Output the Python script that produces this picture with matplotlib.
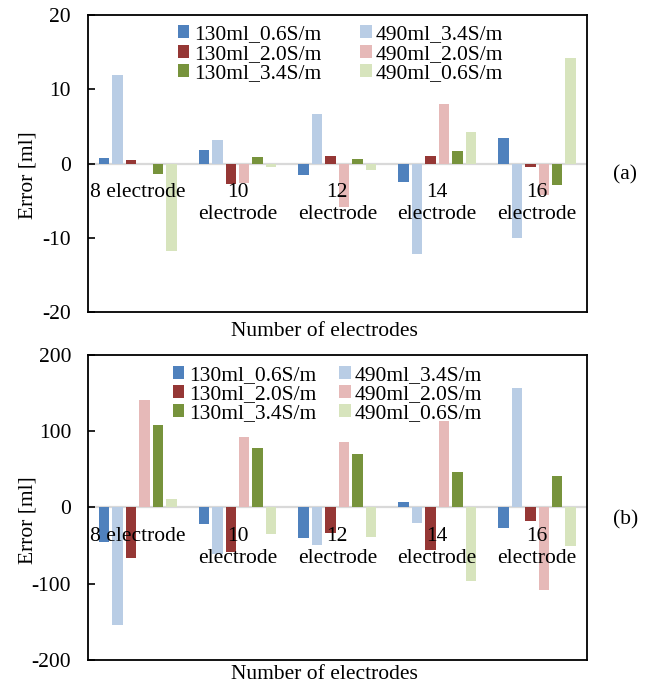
import numpy as np
import matplotlib
matplotlib.use("Agg")
import matplotlib.pyplot as plt
import matplotlib.transforms as mtransforms

plt.rcParams['font.family'] = ['Liberation Serif', 'DejaVu Serif']
plt.rcParams['font.size'] = 15.5
plt.rcParams['axes.unicode_minus'] = False

# 数据
categories = ['8 electrode', '10\nelectrode', '12\nelectrode', '14\nelectrode', '16\nelectrode']
series_names = ['130ml_0.6S/m', '490ml_3.4S/m', '130ml_2.0S/m',
                '490ml_2.0S/m', '130ml_3.4S/m', '490ml_0.6S/m']
series_colors = ['#4F81BD', '#B9CDE5', '#953735', '#E6B9B8', '#77933C', '#D7E4BD']

# (a) 每个系列在5个电极数下的误差
err_a_130_06 = [0.8, 1.85, -1.5, -2.5, 3.5]
err_a_490_34 = [11.9, 3.15, 6.7, -12.2, -10.0]
err_a_130_20 = [0.5, -2.7, 1.0, 0.95, -0.45]
err_a_490_20 = [0.0, -2.6, -5.85, 8.0, -4.3]
err_a_130_34 = [-1.35, 0.9, 0.55, 1.7, -2.9]
err_a_490_06 = [-11.8, -0.5, -0.85, 4.2, 14.2]

# (b)
err_b_130_06 = [-44.8, -22.0, -39.6, 6.6, -26.4]
err_b_490_34 = [-153.8, -60.7, -49.0, -19.8, 157.0]
err_b_130_20 = [-66.0, -58.5, -33.0, -56.3, -17.6]
err_b_490_20 = [140.7, 92.7, 86.2, 113.4, -108.6]
err_b_130_34 = [107.7, 77.8, 70.3, 47.0, 41.3]
err_b_490_06 = [10.5, -34.3, -38.7, -96.7, -50.5]

data_a = [err_a_130_06, err_a_490_34, err_a_130_20, err_a_490_20, err_a_130_34, err_a_490_06]
data_b = [err_b_130_06, err_b_490_34, err_b_130_20, err_b_490_20, err_b_130_34, err_b_490_06]

# 图例顺序 (按列填充)
legend_order = [0, 2, 4, 1, 3, 5]

fig = plt.figure(figsize=(6.5, 6.85), dpi=100)
ax_a = fig.add_axes([0.135, 0.5445, 0.768, 0.4335])
ax_b = fig.add_axes([0.135, 0.0365, 0.768, 0.4453])


def draw_panel(ax, data, ylim, yticks, colspacing, leg_x, tag, tag_y, xlab_y):
    x = np.arange(len(categories))
    slot = 0.135
    handles = []
    for i, vals in enumerate(data):
        h = ax.bar(x + (i - 2.5) * slot, vals, width=0.105,
                   color=series_colors[i], zorder=2)
        handles.append(h)
    ax.axhline(0, color='#D9D9D9', lw=1.6, zorder=1)
    ax.set_xlim(-0.5, len(categories) - 0.5)
    ax.set_ylim(*ylim)
    ax.set_yticks(yticks)
    ax.set_xticks([])
    ax.tick_params(axis='y', direction='in', length=5, width=1.2, pad=12,
                   labelsize=15.5)
    for s in ax.spines.values():
        s.set_linewidth(1.3)
        s.set_color('black')

    # 类别标签放在零线下方
    trans = mtransforms.blended_transform_factory(ax.transData, ax.transData)
    for xi, lab in zip(x, categories):
        ax.annotate(lab, xy=(xi, 0), xycoords=trans, xytext=(0, -14),
                    textcoords='offset points', ha='center', va='top',
                    fontsize=15.5, linespacing=1.2, zorder=3)

    ax.set_ylabel('Error [ml]', fontsize=15.5)
    ax.yaxis.set_label_coords(-0.1, 0.46)
    ax.set_xlabel('Number of electrodes', fontsize=15.5)
    ax.xaxis.set_label_coords(0.475, xlab_y)

    ax.legend([handles[k] for k in legend_order],
              [series_names[k] for k in legend_order],
              ncol=2, frameon=False, loc='upper left',
              bbox_to_anchor=(leg_x, 0.965), borderaxespad=0, borderpad=0,
              handlelength=0.55, handleheight=0.55, handletextpad=0.2,
              columnspacing=colspacing, labelspacing=0.0, fontsize=15.5)

    fig.text(0.962, tag_y, tag, ha='center', va='center', fontsize=15.5)


draw_panel(ax_a, data_a, (-20, 20), [-20, -10, 0, 10, 20], 1.8, 0.18, '(a)', 1 - 175 / 685, -0.035)
draw_panel(ax_b, data_b, (-200, 200), [-200, -100, 0, 100, 200], 1.05, 0.17, '(b)', 1 - 520 / 685, -0.018)

fig.savefig('out.png', dpi=100)
